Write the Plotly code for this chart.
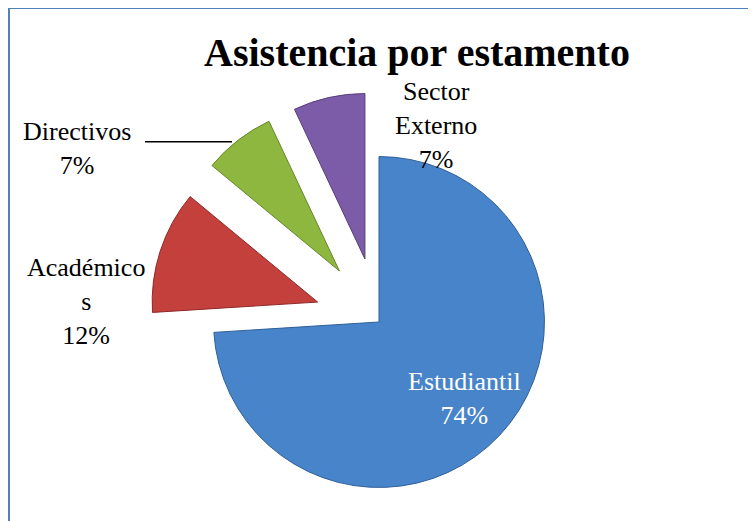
import plotly.graph_objects as go

# ---- data ----
categories = ["Estudiantil", "Académicos", "Directivos", "Sector Externo"]
values = [74, 12, 7, 7]
label_text = ["Estudiantil", "Académico<br>s", "Directivos", "Sector<br>Externo"]
colors = ["#4884CA", "#C4403D", "#8DB73F", "#7C5CA9"]
edge_colors = ["#2F5F99", "#8E2A28", "#66872A", "#563E7A"]
pulls = [0, 0.39, 0.39, 0.39]

W, H = 756, 560
OX, OY = 8, 8  # page offset of the plot div


def px(x):
    return (x - OX) / W


def py(y):
    return 1 - (y - OY) / H


fig = go.Figure()
fig.add_trace(go.Pie(
    labels=categories,
    values=values,
    sort=False,
    direction="clockwise",
    rotation=0,
    pull=pulls,
    textinfo="none",
    marker=dict(colors=colors, line=dict(color=edge_colors, width=1)),
    domain=dict(x=[px(379 - 230), px(379 + 230)], y=[py(322 + 230), py(322 - 230)]),
    showlegend=False,
    hoverinfo="label+percent",
))

total = sum(values)
label_pos = [(464, 398), (86, 301), (77, 148.5), (436, 125)]
label_colors = ["white", "black", "black", "black"]
for txt, v, (x, y), c in zip(label_text, values, label_pos, label_colors):
    fig.add_annotation(
        x=px(x), y=py(y), xref="paper", yref="paper",
        text=f"{txt}<br>{round(100 * v / total)}%",
        showarrow=False, xanchor="center", yanchor="middle",
        font=dict(family="Liberation Serif", size=26, color=c),
    )

# leader line for Directivos
fig.add_shape(type="line", xref="paper", yref="paper",
              x0=px(145), x1=px(232), y0=py(141.7), y1=py(141.7),
              line=dict(color="black", width=1.5))

# chart border
fig.add_shape(type="rect", xref="paper", yref="paper",
              x0=px(9), x1=px(900), y0=py(900), y1=py(8),
              line=dict(color="#4F81BD", width=2))

fig.update_layout(
    width=W, height=H,
    margin=dict(l=0, r=0, t=0, b=0),
    paper_bgcolor="white",
    title=dict(text="<b>Asistencia por estamento</b>", x=px(417), xanchor="center",
               y=py(52), yanchor="middle",
               font=dict(family="Liberation Serif", size=40, color="black")),
)

fig.write_html("out.html")
